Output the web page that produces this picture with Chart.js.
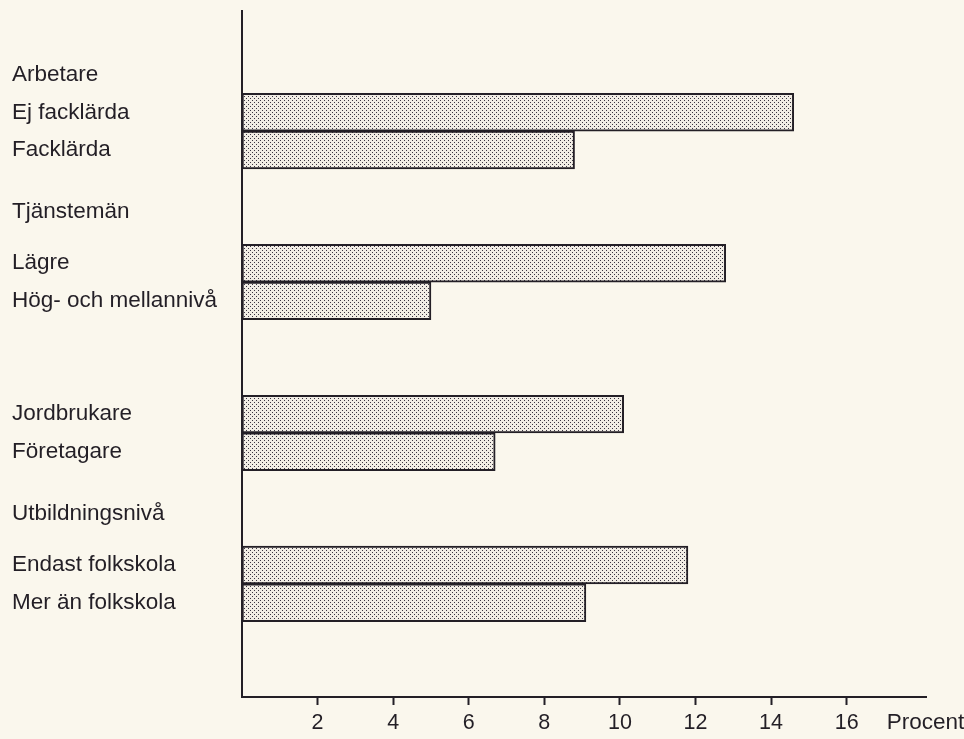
<!DOCTYPE html>
<html>
<head>
<meta charset="utf-8">
<title>Procent per grupp</title>
<script src="https://cdn.jsdelivr.net/npm/chart.js@4.4.1/dist/chart.umd.min.js"></script>
<style>
    html, body { margin: 0; padding: 0; background: #faf7ed; }
    .chart-wrapper { position: relative; width: 964px; height: 739px; }
</style>
</head>
<body>
<div class="chart-wrapper"><canvas id="groupChart"></canvas></div>
<script>
// --- Data (empty slots = headings / gaps) ---
const categories = [
    '', 'Arbetare', 'Ej facklärda', 'Facklärda',
    '', ['Tjänstemän', ''], 'Lägre', 'Hög- och mellannivå',
    '', '', 'Jordbrukare', 'Företagare',
    '', ['Utbildningsnivå', ''], 'Endast folkskola', 'Mer än folkskola',
    '', ''
];
const percentValues = [
    null, null, 14.6, 8.8,
    null, null, 12.8, 5.0,
    null, null, 10.1, 6.7,
    null, null, 11.8, 9.1,
    null, null
];
const xTicks = [2, 4, 6, 8, 10, 12, 14, 16];
const xUnit = 'Procent';

const INK = '#231f26';
const FONT = "'Liberation Sans', Arial, sans-serif";
const LABEL_SIZE = 22.5;
const TICK_SIZE = 21.5;

// --- Dotted raster fill like the printed original ---
function makeDotPattern() {
    const tile = document.createElement('canvas');
    tile.width = 4;
    tile.height = 4;
    const t = tile.getContext('2d');
    t.fillStyle = '#f1ede5';
    t.fillRect(0, 0, 4, 4);
    t.fillStyle = '#3b3542';
    t.fillRect(0, 0, 1, 1);
    t.fillRect(2, 2, 1, 1);
    return t.createPattern(tile, 'repeat');
}

// Axis extras: y-axis line runs a little above the plot, unit text after the ticks
const axisExtras = {
    id: 'axisExtras',
    afterDraw(chart) {
        const { ctx, chartArea } = chart;
        const xs = chart.scales.x;
        ctx.save();
        ctx.strokeStyle = INK;
        ctx.lineWidth = 2;
        ctx.beginPath();
        ctx.moveTo(chartArea.left, chartArea.top - 8);
        ctx.lineTo(chartArea.left, chartArea.top + 1);
        ctx.stroke();

        ctx.font = LABEL_SIZE + 'px ' + FONT;
        ctx.fillStyle = INK;
        ctx.textAlign = 'left';
        ctx.textBaseline = 'middle';
        const y = xs.top + 8 + 5 + TICK_SIZE * 1.2 / 2;
        ctx.fillText(xUnit, xs.getPixelForValue(xTicks[xTicks.length - 1]) + 40, y);
        ctx.restore();
    }
};

function renderChart() {
    const ctx = document.getElementById('groupChart');
    new Chart(ctx, {
        type: 'bar',
        data: {
            labels: categories,
            datasets: [{
                data: percentValues,
                backgroundColor: makeDotPattern(),
                borderColor: INK,
                borderWidth: 2,
                borderSkipped: false,
                barPercentage: 1,
                categoryPercentage: 1
            }]
        },
        options: {
            indexAxis: 'y',
            responsive: true,
            maintainAspectRatio: false,
            animation: false,
            layout: { padding: { left: 12, top: 18, right: 38, bottom: 0 } },
            plugins: { legend: { display: false }, tooltip: { enabled: false } },
            scales: {
                x: {
                    type: 'linear',
                    min: 0,
                    max: 18.1,
                    afterBuildTicks: (scale) => { scale.ticks = xTicks.map(v => ({ value: v })); },
                    afterFit: (scale) => { scale.height = 42; },
                    grid: { display: true, drawOnChartArea: false, drawTicks: true, tickLength: 8, tickColor: INK, tickWidth: 2 },
                    border: { display: true, color: INK, width: 2 },
                    ticks: { color: INK, padding: 5, maxRotation: 0, autoSkip: false, font: { family: FONT, size: TICK_SIZE } }
                },
                y: {
                    afterFit: (scale) => { scale.width = 230; },
                    grid: { display: false },
                    border: { display: true, color: INK, width: 2 },
                    ticks: { color: INK, crossAlign: 'far', autoSkip: false, font: { family: FONT, size: LABEL_SIZE } }
                }
            }
        },
        plugins: [axisExtras]
    });
}

document.addEventListener('DOMContentLoaded', () => {
    renderChart();
});
</script>
</body>
</html>
